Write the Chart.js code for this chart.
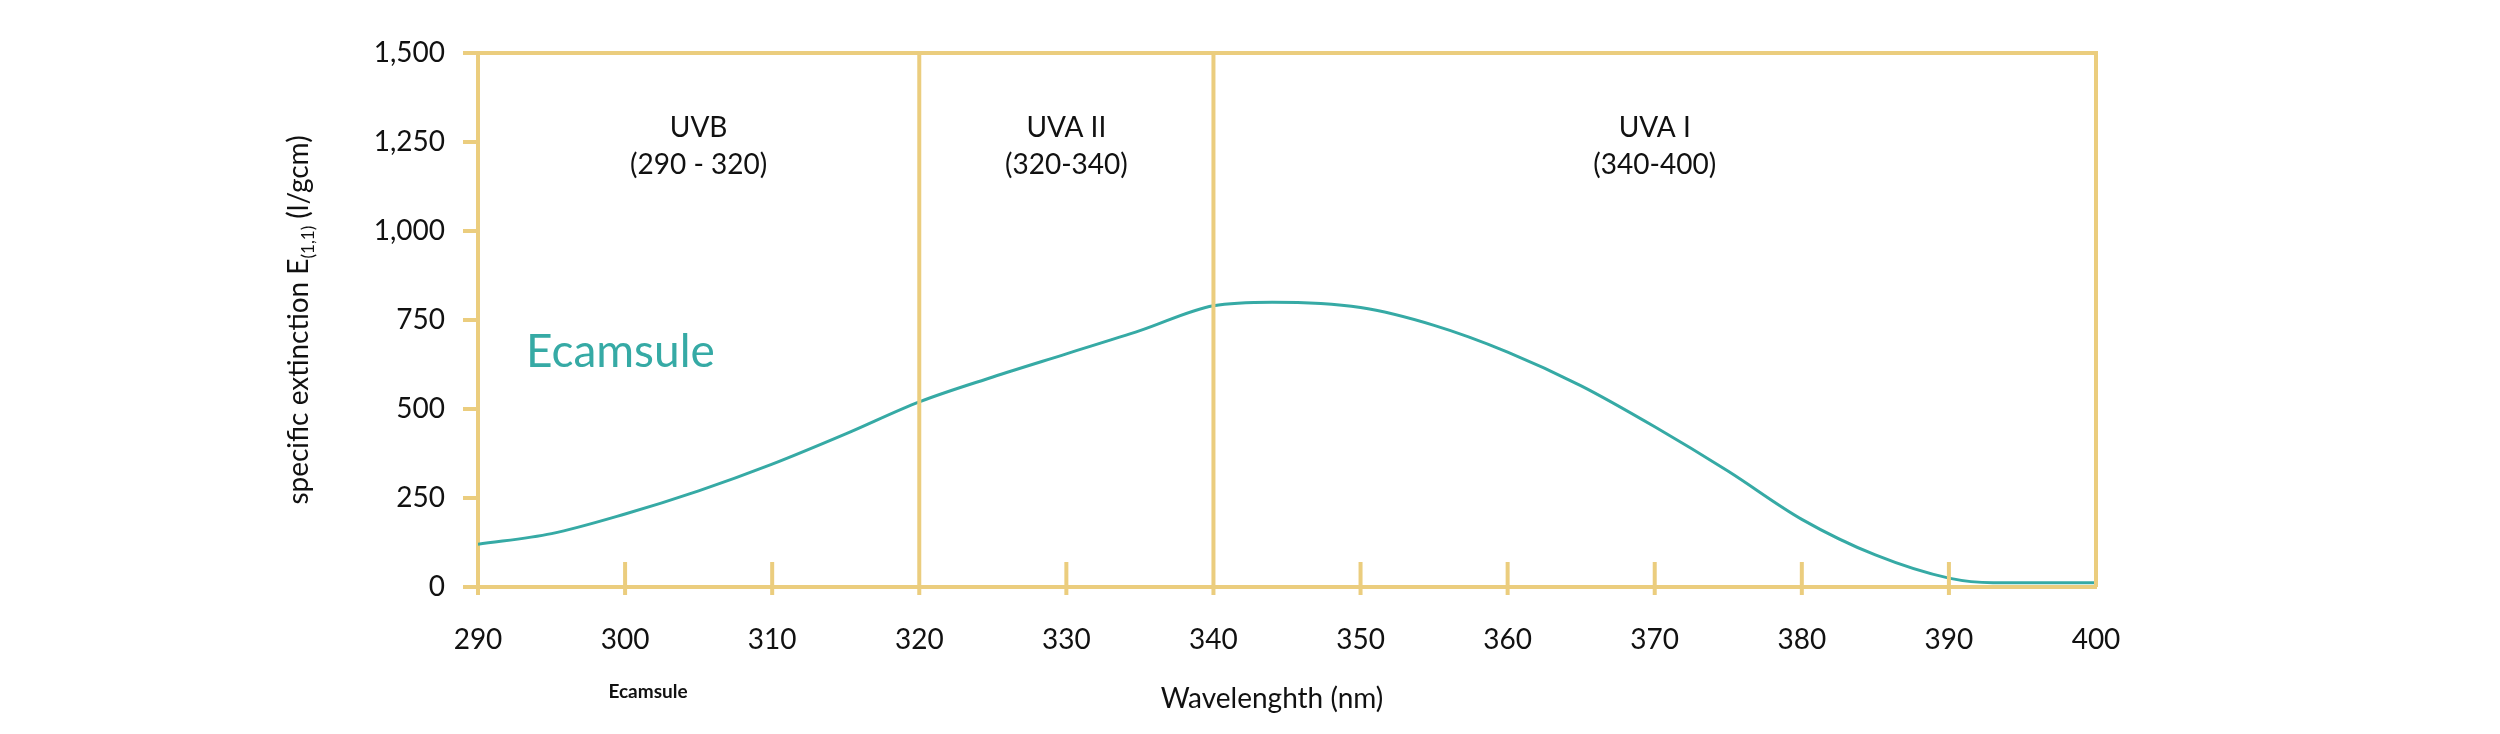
<!DOCTYPE html>
<html>
<head>
<meta charset="utf-8">
<script src="https://cdn.jsdelivr.net/npm/chart.js@4"></script>
<style>
  html, body { margin: 0; padding: 0; background: #fff; }
  #wrap { width: 2500px; height: 734px; }
</style>
</head>
<body>
<div id="wrap"><canvas id="chart"></canvas></div>
<script>
const wavelengths = [290, 295, 300, 305, 310, 315, 320, 325, 330, 335, 340, 344, 350, 355, 360, 365, 370, 375, 380, 385, 390, 393, 400];
const extinction  = [120, 150, 205, 270, 345, 430, 520, 590, 655, 720, 790, 800, 785, 735, 660, 565, 450, 325, 190, 90, 25, 12, 12];
const regionBounds = [320, 340];
const regionLabels = [
  { x: 305, lines: ['UVB', '(290 - 320)'] },
  { x: 330, lines: ['UVA II', '(320-340)'] },
  { x: 370, lines: ['UVA I', '(340-400)'] }
];
const innerTicks = [300, 310, 330, 350, 360, 370, 380, 390];

const gold = '#ebcd7e';
const teal = '#36aaa5';
const FONT = 'Lato, "Open Sans", sans-serif';

const decor = {
  id: 'decor',
  afterDraw(chart) {
    const ctx = chart.ctx, a = chart.chartArea;
    const xs = chart.scales.x;
    ctx.save();
    ctx.strokeStyle = gold;
    ctx.lineWidth = 4;
    ctx.beginPath();
    ctx.moveTo(a.left, a.top); ctx.lineTo(a.right, a.top); ctx.lineTo(a.right, a.bottom);
    regionBounds.forEach(v => {
      const px = xs.getPixelForValue(v);
      ctx.moveTo(px, a.top); ctx.lineTo(px, a.bottom + 8);
    });
    innerTicks.forEach(v => {
      const px = xs.getPixelForValue(v);
      ctx.moveTo(px, a.bottom - 25); ctx.lineTo(px, a.bottom + 8);
    });
    ctx.moveTo(a.left, a.bottom + 8); ctx.lineTo(a.left, a.bottom);
    ctx.stroke();

    ctx.fillStyle = '#111';
    ctx.textAlign = 'center';
    ctx.textBaseline = 'middle';
    ctx.font = '28px ' + FONT;
    regionLabels.forEach(r => {
      const px = xs.getPixelForValue(r.x);
      ctx.fillText(r.lines[0], px, 128);
      ctx.fillText(r.lines[1], px, 165);
    });

    ctx.fillText('Wavelenghth (nm)', 1272, 699);
    ctx.font = 'bold 19px ' + FONT;
    ctx.fillText('Ecamsule', 648, 692);

    ctx.fillStyle = teal;
    ctx.textAlign = 'left';
    ctx.font = '46px ' + FONT;
    ctx.fillText('Ecamsule', 526, 352);

    // y axis title with subscript
    ctx.translate(299, 320);
    ctx.rotate(-Math.PI / 2);
    ctx.fillStyle = '#111';
    const p1 = 'specific extinction E', sub = '(1,1)', p2 = ' (l/gcm)';
    ctx.font = '28px ' + FONT;
    const w1 = ctx.measureText(p1).width, w3 = ctx.measureText(p2).width;
    ctx.font = '17px ' + FONT;
    const w2 = ctx.measureText(sub).width;
    let x0 = -(w1 + w2 + w3) / 2;
    ctx.font = '28px ' + FONT;
    ctx.fillText(p1, x0, 0);
    ctx.font = '17px ' + FONT;
    ctx.fillText(sub, x0 + w1, 10);
    ctx.font = '28px ' + FONT;
    ctx.fillText(p2, x0 + w1 + w2, 0);
    ctx.restore();
  }
};

new Chart(document.getElementById('chart'), {
  type: 'line',
  data: {
    datasets: [{
      data: wavelengths.map((w, i) => ({ x: w, y: extinction[i] })),
      borderColor: teal,
      borderWidth: 3,
      pointRadius: 0,
      cubicInterpolationMode: 'monotone',
      fill: false
    }]
  },
  options: {
    responsive: true,
    maintainAspectRatio: false,
    animation: false,
    layout: { padding: { top: 53, right: 404, bottom: 0, left: 0 } },
    plugins: { legend: { display: false }, tooltip: { enabled: false } },
    scales: {
      x: {
        type: 'linear', min: 290, max: 400,
        afterFit(s) { s.height = 147; },
        grid: { display: false },
        border: { color: gold, width: 4 },
        ticks: { stepSize: 10, color: '#111', padding: 28, font: { size: 28, family: FONT } }
      },
      y: {
        min: 0, max: 1500,
        afterFit(s) { s.width = 478; },
        grid: { drawOnChartArea: false, color: gold, lineWidth: 4, tickLength: 15 },
        border: { color: gold, width: 4 },
        ticks: { stepSize: 250, color: '#111', padding: 18, font: { size: 28, family: FONT } }
      }
    }
  },
  plugins: [decor]
});
</script>
</body>
</html>
